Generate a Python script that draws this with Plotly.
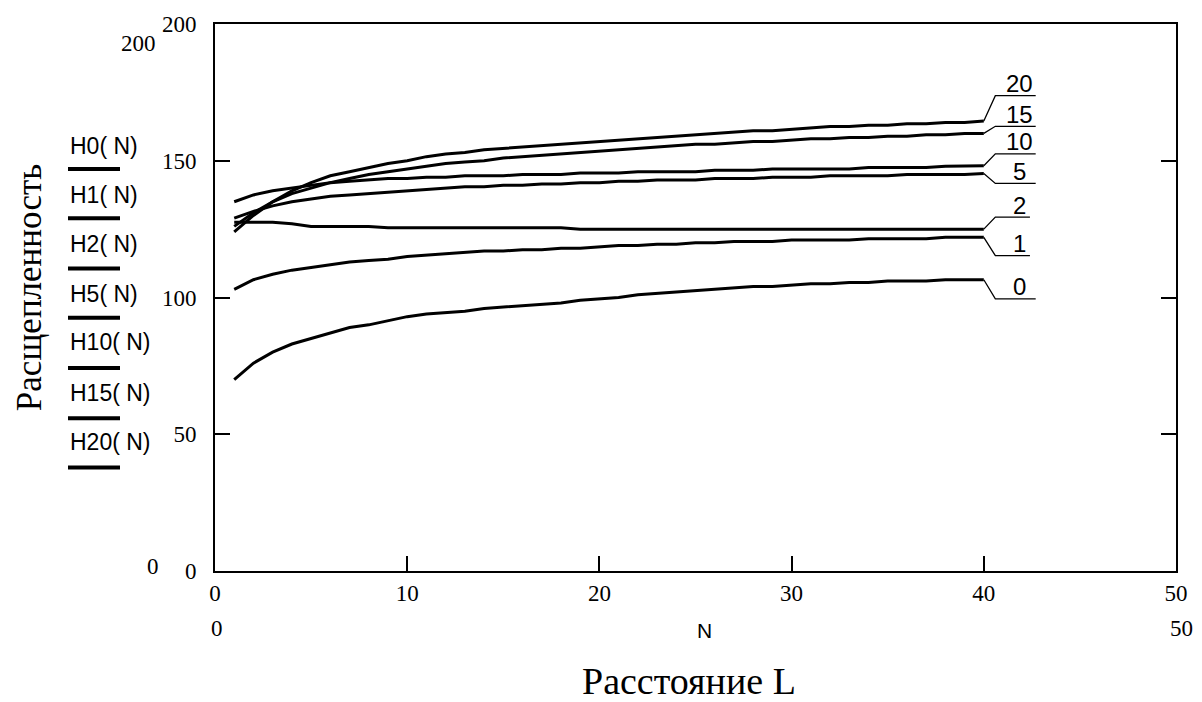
import plotly.graph_objects as go

# ---------------- data ----------------
N = list(range(1, 41))
H0 = [70, 76, 80, 83, 85, 87, 89, 90, 91.5, 93, 94, 94.5, 95, 96, 96.5, 97, 97.5, 98, 99, 99.5,
      100, 101, 101.5, 102, 102.5, 103, 103.5, 104, 104, 104.5, 105, 105, 105.5, 105.5, 106, 106, 106, 106.5, 106.5, 106.5]
H1 = [103, 106.5, 108.5, 110, 111, 112, 113, 113.5, 114, 115, 115.5, 116, 116.5, 117, 117, 117.5, 117.5, 118, 118, 118.5,
      119, 119, 119.5, 119.5, 120, 120, 120.5, 120.5, 120.5, 121, 121, 121, 121, 121.5, 121.5, 121.5, 121.5, 122, 122, 122]
H2 = [127.5, 127.5, 127.5, 127, 126, 126, 126, 126, 125.5, 125.5, 125.5, 125.5, 125.5, 125.5, 125.5, 125.5, 125.5, 125.5, 125, 125,
      125, 125, 125, 125, 125, 125, 125, 125, 125, 125, 125, 125, 125, 125, 125, 125, 125, 125, 125, 125]
H5 = [129, 131.5, 133.5, 135, 136, 137, 137.5, 138, 138.5, 139, 139.5, 140, 140.5, 140.5, 141, 141, 141.5, 141.5, 142, 142,
      142.5, 142.5, 143, 143, 143, 143.5, 143.5, 143.5, 144, 144, 144, 144.5, 144.5, 144.5, 144.5, 145, 145, 145, 145, 145.3]
H10 = [135, 137.5, 139, 140, 141, 142, 142.5, 143, 143.5, 143.5, 144, 144, 144.5, 144.5, 144.5, 145, 145, 145, 145.5, 145.5,
       145.5, 146, 146, 146, 146, 146.5, 146.5, 146.5, 147, 147, 147, 147, 147, 147.5, 147.5, 147.5, 147.5, 148, 148, 148.2]
H15 = [126, 131, 135, 138, 140, 142, 143.5, 145, 146, 147, 148, 149, 149.5, 150, 151, 151.5, 152, 152.5, 153, 153.5,
       154, 154.5, 155, 155.5, 156, 156, 156.5, 157, 157, 157.5, 158, 158, 158.5, 158.5, 159, 159, 159.5, 159.5, 160, 160]
H20 = [124, 130, 135, 139, 142, 144.5, 146, 147.5, 149, 150, 151.5, 152.5, 153, 154, 154.5, 155, 155.5, 156, 156.5, 157,
       157.5, 158, 158.5, 159, 159.5, 160, 160.5, 161, 161, 161.5, 162, 162.5, 162.5, 163, 163, 163.5, 163.5, 164, 164, 164.5]

series = [H0, H1, H2, H5, H10, H15, H20]
curve_labels = ["0", "1", "2", "5", "10", "15", "20"]
legend_names = ["H0( N)", "H1( N)", "H2( N)", "H5( N)", "H10( N)", "H15( N)", "H20( N)"]

x_ticks = [0, 10, 20, 30, 40, 50]
y_ticks = [0, 50, 100, 150, 200]

# ---------------- layout geometry (pixels) ----------------
W, HH = 1202, 702
ML, MR, MT, MB = 215, 26, 16, 131
PW, PH = W - ML - MR, HH - MT - MB


def pxx(x):
    return (x - ML) / PW


def pxy(y):
    return (HH - MB - y) / PH


# leader label levels (data units) and end x
label_levels = [99.5, 115.3, 129.4, 141.7, 152.5, 162.6, 173.8]
label_end_x = [42.7, 42.4, 42.4, 42.7, 42.7, 42.7, 42.7]
label_elbow_x = 40.6
label_text_x = 41.85

serif = "Liberation Serif, Times New Roman, serif"
sans = "Liberation Sans, Arial, sans-serif"

fig = go.Figure()
for ys in series:
    fig.add_trace(go.Scatter(x=N, y=ys, mode="lines",
                             line=dict(color="black", width=3),
                             showlegend=False, hoverinfo="skip"))

shapes = []
annotations = []

# leaders and labels at right ends
for ys, lab, lvl, xe in zip(series, curve_labels, label_levels, label_end_x):
    shapes.append(dict(type="path", xref="x", yref="y",
                       path=f"M {N[-1]},{ys[-1]} L {label_elbow_x},{lvl} L {xe},{lvl}",
                       line=dict(color="black", width=1.3)))
    annotations.append(dict(x=label_text_x, y=lvl, xref="x", yref="y", text=lab,
                            showarrow=False, xanchor="center", yanchor="middle", yshift=12,
                            font=dict(family=sans, size=24, color="black")))

# left "legend" (Mathcad-style trace names with underline)
legend_text_y = [140, 189, 239, 290, 339, 390, 440]
legend_line_y = [163, 213, 264, 314, 365, 416, 466]
for name, ty, ly in zip(legend_names, legend_text_y, legend_line_y):
    annotations.append(dict(x=pxx(68), y=pxy(ty), xref="paper", yref="paper", text=name,
                            showarrow=False, xanchor="left", yanchor="middle",
                            font=dict(family=sans, size=23, color="black")))
    shapes.append(dict(type="line", xref="paper", yref="paper",
                       x0=pxx(68), x1=pxx(120), y0=pxy(ly), y1=pxy(ly),
                       line=dict(color="black", width=4)))

# extra Mathcad limit labels
extra = [("200", 138, 36), ("0", 153, 566), ("0", 217, 629), ("50", 1181, 629)]
for t, x, y in extra:
    annotations.append(dict(x=pxx(x), y=pxy(y), xref="paper", yref="paper", text=t,
                            showarrow=False, xanchor="center", yanchor="middle",
                            font=dict(family=serif, size=23, color="black")))

annotations.append(dict(x=pxx(704), y=pxy(631), xref="paper", yref="paper", text="N",
                        showarrow=False, xanchor="center", yanchor="middle",
                        font=dict(family=sans, size=21, color="black")))
annotations.append(dict(x=pxx(689), y=pxy(683), xref="paper", yref="paper", text="Расстояние L",
                        showarrow=False, xanchor="center", yanchor="middle",
                        font=dict(family=serif, size=38, color="black")))
annotations.append(dict(x=pxx(29), y=pxy(284), xref="paper", yref="paper", text="Расщепленность",
                        showarrow=False, xanchor="center", yanchor="middle", textangle=-90,
                        font=dict(family=serif, size=35, color="black")))

fig.update_layout(
    width=W, height=HH,
    margin=dict(l=ML, r=MR, t=MT, b=MB, pad=0),
    paper_bgcolor="white", plot_bgcolor="white",
    shapes=shapes, annotations=annotations,
    xaxis=dict(range=[0, 50], tickvals=x_ticks, ticktext=[str(v) for v in x_ticks],
               showgrid=False, zeroline=False, showline=True, linecolor="black", linewidth=2,
               mirror=True, ticks="inside", ticklen=15, tickwidth=2, tickcolor="black",
               tickfont=dict(family=serif, size=23, color="black")),
    yaxis=dict(range=[0, 200], tickvals=y_ticks, ticktext=[str(v) for v in y_ticks],
               showgrid=False, zeroline=False, showline=True, linecolor="black", linewidth=2,
               mirror="ticks", ticks="inside", ticklen=15, tickwidth=2, tickcolor="black",
               ticklabelstandoff=12,
               tickfont=dict(family=serif, size=23, color="black")),
)

fig.write_html("out.html")
